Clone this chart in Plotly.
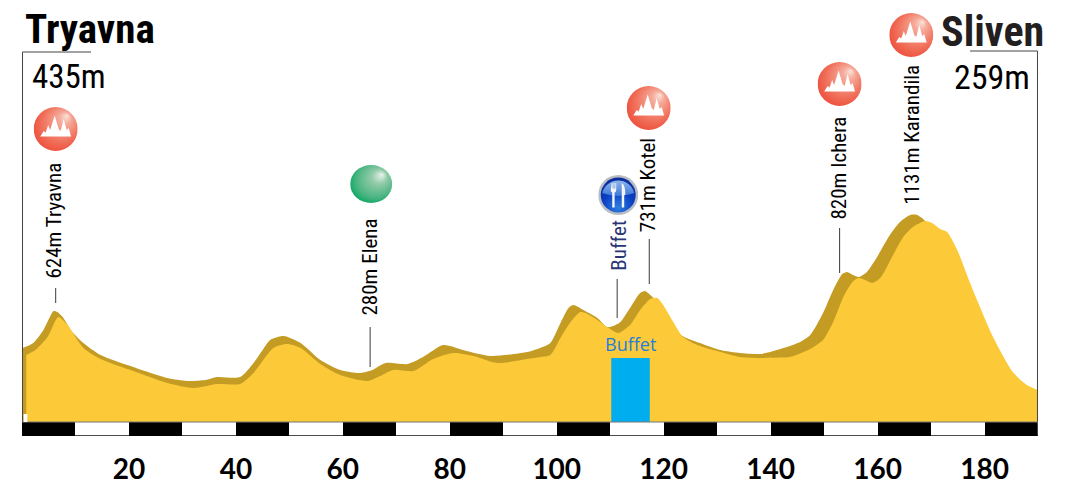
import base64
import plotly.graph_objects as go

# ---------- data ----------
back_km = [0.1,2.1,4.0,5.3,5.9,6.6,7.6,9.4,11.5,14.7,20.8,27.2,30.9,34.3,36.5,40.8,43.3,45.0,46.4,48.9,52.1,55.8,59.5,63.3,65.5,68.0,72.1,75.0,78.8,82.5,87.6,94.5,96.9,98.8,100.7,102.2,103.1,105.0,107.6,109.4,110.6,111.9,113.7,115.6,116.5,117.9,118.8,121.2,123.6,126.8,130.6,134.3,138.1,141.8,143.6,145.5,147.4,149.8,151.7,153.4,154.3,155.4,156.5,158.0,159.9,162.3,164.2,166.1,167.4,168.9,170.7,173.5,175.3]
back_elev = [466,491,556,626,651,646,621,546,491,431,371,316,301,306,321,321,391,456,506,526,491,406,356,341,356,391,386,421,481,456,426,446,466,491,591,666,681,656,616,571,576,596,666,741,751,721,696,590,525,491,456,441,436,461,476,496,531,641,756,836,846,831,821,846,921,1031,1096,1131,1131,1101,1006,706,206]
front_km = [0.8,2.5,4.8,6.8,8.5,11.5,14.7,20.8,27.2,32.1,36.5,40.8,43.3,47.0,49.6,52.1,55.8,59.5,64.6,67.0,69.4,73.2,76.9,80.7,84.4,88.9,94.5,96.9,98.8,100.7,102.6,104.4,105.4,107.6,109.4,111.5,113.7,115.6,117.5,118.8,119.9,121.8,123.6,126.3,130.6,134.3,138.1,141.8,143.6,147.4,149.8,151.7,153.6,155.3,156.4,157.7,159.0,160.5,162.9,164.8,166.6,168.9,170.2,171.7,173.0,174.9,177.3,178.6,181.6,185.3,187.9,190.0]
front_elev = [431,456,521,621,581,466,411,351,291,266,286,286,341,466,486,466,386,331,301,326,356,351,411,441,426,391,411,421,431,516,596,646,641,606,571,541,581,656,711,716,681,596,521,481,446,421,416,418,421,461,506,596,721,796,816,806,791,816,931,1021,1071,1101,1091,1061,1046,956,791,706,521,346,281,256]

base_elev = 96
band_floor = 26
band_km = [5,15,25,35,45,55,65,75,85,95,105,115,125,135,145,155,165,175,185]
band_height = [70]*19

tick_km = [20,40,60,80,100,120,140,160,180]
tick_labels = ["20","40","60","80","100","120","140","160","180"]

place_labels = ["624m Tryavna","280m Elena","Buffet","731m Kotel","820m Ichera","1131m Karandila"]
place_km = [5.9,64.9,111.5,117.1,152.6,166.4]
place_label_elev = [806,621,846,1041,1101,1176]

leader_km = [6.3,65.1,111.3,117.3,152.9]
leader_low = [691,371,616,786,841]
leader_high = [766,571,811,1011,1066]

buffet_start, buffet_end, buffet_top = 110.2, 117.4, 416

red_icon_km = [6.3,117.2,152.9,166.3]
red_icon_elev = [1561,1666,1786,2031]
green_icon_km, green_icon_elev = 65.3, 1286
food_icon_km, food_icon_elev = 111.5, 1231

XPX = 5.35   # pixels per km
YPX = 0.2    # pixels per metre

# ---------- icons ----------
def uri(svg):
    return "data:image/svg+xml;base64," + base64.b64encode(svg.encode()).decode()

red_svg = '''<svg xmlns="http://www.w3.org/2000/svg" width="88" height="88" viewBox="0 0 44 44">
<defs><radialGradient id="g" cx="0.55" cy="0.45" r="0.62" fx="0.76" fy="0.2">
<stop offset="0" stop-color="#fbe3dc"/><stop offset="0.22" stop-color="#f6ab9b"/>
<stop offset="0.7" stop-color="#f06f59"/><stop offset="1" stop-color="#ee4b38"/></radialGradient></defs>
<circle cx="22" cy="22" r="22" fill="url(#g)"/>
<path d="M6.6 29.5 L10 24 L12 25.5 L14.5 18 L16.5 23 L21 8.5 L25 22 L27 24 L30 12 L33 23 L35 21 L37.4 29.5 Z" fill="#fff"/>
</svg>'''
green_svg = '''<svg xmlns="http://www.w3.org/2000/svg" width="84" height="76" viewBox="0 0 42 38">
<defs><radialGradient id="g" cx="0.55" cy="0.45" r="0.62" fx="0.76" fy="0.25">
<stop offset="0" stop-color="#e8f3ec"/><stop offset="0.3" stop-color="#93cba9"/>
<stop offset="0.75" stop-color="#49b481"/><stop offset="1" stop-color="#00a65d"/></radialGradient></defs>
<ellipse cx="21" cy="19" rx="21" ry="19" fill="url(#g)"/></svg>'''
food_svg = '''<svg xmlns="http://www.w3.org/2000/svg" width="80" height="80" viewBox="0 0 40 40">
<defs><radialGradient id="g" cx="0.5" cy="0.85" r="0.8">
<stop offset="0" stop-color="#2f7fe0"/><stop offset="0.55" stop-color="#0a3fc4"/><stop offset="1" stop-color="#0b2d9c"/></radialGradient>
<linearGradient id="t" x1="0" y1="0" x2="0" y2="1"><stop offset="0" stop-color="#8fb4ea"/><stop offset="1" stop-color="#3d78d8"/></linearGradient></defs>
<circle cx="20" cy="20" r="20" fill="#b9bec4"/><circle cx="20" cy="20" r="17.5" fill="url(#g)"/>
<path d="M4 18 A16.5 16.5 0 0 1 36 18 Q20 24 4 18 Z" fill="url(#t)"/>
<path d="M13.5 8 h0.9 v5.5 h0.9 V8 h0.9 v5.5 h0.9 V8 h0.9 v7 q0 2 -1.6 2.5 v15 h-2.4 v-15 q-1.5 -0.5 -1.5 -2.5 Z" fill="#f4f6fa"/>
<path d="M23.5 32.5 V8 q3.8 2 3.5 12 h-1 v12.5 Z" fill="#f4f6fa"/></svg>'''

images = [dict(source=uri(red_svg), xref="x", yref="y", x=k, y=e, sizex=44/XPX, sizey=44/YPX,
               xanchor="center", yanchor="middle", sizing="stretch", layer="above")
          for k, e in zip(red_icon_km, red_icon_elev)]
images.append(dict(source=uri(green_svg), xref="x", yref="y", x=green_icon_km, y=green_icon_elev,
                   sizex=42/XPX, sizey=38/YPX, xanchor="center", yanchor="middle", sizing="stretch", layer="above"))
images.append(dict(source=uri(food_svg), xref="x", yref="y", x=food_icon_km, y=food_icon_elev,
                   sizex=40/XPX, sizey=40/YPX, xanchor="center", yanchor="middle", sizing="stretch", layer="above"))

# ---------- figure ----------
fig = go.Figure()
band_colors = ["#000000" if i % 2 == 0 else "#ffffff" for i in range(len(band_km))]
fig.add_trace(go.Bar(x=band_km, y=band_height, base=band_floor, width=10,
                     marker=dict(color=band_colors, line=dict(width=0)), hoverinfo="skip"))

def area(xs, ys, color):
    fig.add_trace(go.Scatter(x=[xs[0], xs[-1]], y=[base_elev, base_elev], mode="lines",
                             line=dict(width=0), hoverinfo="skip"))
    fig.add_trace(go.Scatter(x=xs, y=ys, mode="lines", fill="tonexty", fillcolor=color,
                             line=dict(color=color, width=0, shape="spline", smoothing=0.7),
                             hoverinfo="skip"))

area(back_km, back_elev, "#c49c24")
area(front_km, front_elev, "#fcc938")

fig.add_trace(go.Scatter(x=[buffet_start, buffet_start, buffet_end, buffet_end],
                         y=[base_elev, buffet_top, buffet_top, base_elev],
                         mode="lines", fill="toself", fillcolor="#00aeef",
                         line=dict(width=0), hoverinfo="skip"))

for k, lo, hi in zip(leader_km, leader_low, leader_high):
    fig.add_trace(go.Scatter(x=[k, k], y=[lo, hi], mode="lines",
                             line=dict(color="#3a3a3a", width=1), hoverinfo="skip"))

NARROW = "Roboto Condensed, Open Sans Condensed, sans-serif"
ann = []
for t, k, e in zip(place_labels, place_km, place_label_elev):
    ann.append(dict(text=t, x=k, y=e, xref="x", yref="y", textangle=-90, showarrow=False,
                    xanchor="center", yanchor="bottom", borderpad=0,
                    font=dict(family=NARROW, size=21,
                              color="#2b3676" if t == "Buffet" else "#000000")))
ann += [
    dict(text="<b>Tryavna</b>", x=0.3, y=2061, font=dict(family=NARROW, size=41, color="#000000")),
    dict(text="<b>Sliven</b>", x=171.6, y=2051, font=dict(family=NARROW, size=42, color="#231f20")),
    dict(text="435m", x=1.7, y=1826, font=dict(family=NARROW, size=33, color="#000000")),
    dict(text="259m", x=174.1, y=1821, font=dict(family=NARROW, size=34, color="#000000")),
]
for a in ann[-4:]:
    a.update(xref="x", yref="y", xanchor="left", yanchor="middle", showarrow=False, borderpad=0)
ann.append(dict(text="Buffet", x=113.7, y=486, xref="x", yref="y", showarrow=False, xanchor="center",
                yanchor="middle", borderpad=0,
                font=dict(family="Open Sans", size=18, color="#1f7fdc", weight=500)))

frame = dict(color="#444444", width=1)
shapes = [
    dict(type="line", xref="x", yref="y", x0=0.1, x1=0.1, y0=base_elev, y1=1946, line=frame),
    dict(type="line", xref="x", yref="y", x0=0.1, x1=12.9, y0=1946, y1=1946, line=frame),
    dict(type="line", xref="x", yref="y", x0=189.9, x1=189.9, y0=band_floor, y1=1951, line=frame),
    dict(type="line", xref="x", yref="y", x0=177.3, x1=189.9, y0=1951, y1=1951, line=frame),
    dict(type="line", xref="x", yref="y", x0=0, x1=190, y0=band_floor+1, y1=band_floor+1,
         line=dict(color="#000000", width=1)),
    dict(type="line", xref="x", yref="y", x0=0, x1=190, y0=base_elev, y1=base_elev,
         line=dict(color="#777777", width=1)),
    dict(type="rect", xref="x", yref="y", x0=0.3, x1=1.0, y0=base_elev, y1=136,
         fillcolor="#ffffff", line=dict(width=0)),
]

fig.update_layout(
    width=1069, height=490, autosize=False, showlegend=False, bargap=0,
    paper_bgcolor="#ffffff", plot_bgcolor="#ffffff",
    margin=dict(l=21.5, r=31, t=0, b=54),
    xaxis=dict(range=[0, 190], tickmode="array", tickvals=tick_km, ticktext=tick_labels,
               showgrid=False, zeroline=False, showline=False, ticks="", ticklabelstandoff=14,
               tickfont=dict(family="Lato", size=28, color="#000000", weight=700)),
    yaxis=dict(range=[band_floor, 2206], visible=False, showgrid=False, zeroline=False),
    annotations=ann, shapes=shapes, images=images,
)
# the page's default body margin would push the 1069x490 figure 8 px off its window
fig.write_html("out.html", config={"displayModeBar": False},
               post_script="document.body.style.margin='0';document.documentElement.style.overflow='hidden';")
